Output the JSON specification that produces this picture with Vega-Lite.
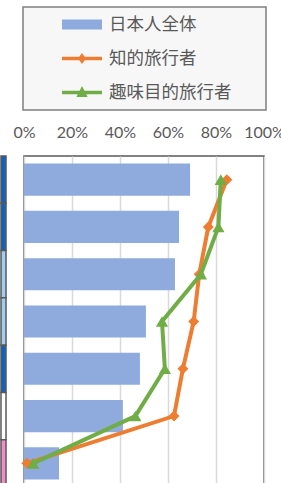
{
  "$schema": "https://vega.github.io/schema/vega-lite/v6.json",
  "padding": {"left": 0, "top": 5, "right": 0, "bottom": 0},
  "background": "white",
  "bounds": "flush",
  "spacing": 18,
  "config": {"view": {"stroke": "#595959", "strokeWidth": 1.5}, "font": "Lato"},
  "datasets": {
    "neighbor": [
      {"item": "1", "level": "濃"},
      {"item": "2", "level": "濃"},
      {"item": "3", "level": "淡"},
      {"item": "4", "level": "淡"},
      {"item": "5", "level": "濃"},
      {"item": "6", "level": "無"},
      {"item": "7", "level": "桃"}
    ],
    "survey": [
      {"item": "1", "series": "日本人全体", "value": 0.692},
      {"item": "2", "series": "日本人全体", "value": 0.646},
      {"item": "3", "series": "日本人全体", "value": 0.629},
      {"item": "4", "series": "日本人全体", "value": 0.508},
      {"item": "5", "series": "日本人全体", "value": 0.483},
      {"item": "6", "series": "日本人全体", "value": 0.412},
      {"item": "7", "series": "日本人全体", "value": 0.146},
      {"item": "1", "series": "知的旅行者", "value": 0.845},
      {"item": "2", "series": "知的旅行者", "value": 0.768},
      {"item": "3", "series": "知的旅行者", "value": 0.73},
      {"item": "4", "series": "知的旅行者", "value": 0.707},
      {"item": "5", "series": "知的旅行者", "value": 0.662},
      {"item": "6", "series": "知的旅行者", "value": 0.625},
      {"item": "7", "series": "知的旅行者", "value": 0.012},
      {"item": "1", "series": "趣味目的旅行者", "value": 0.82},
      {"item": "2", "series": "趣味目的旅行者", "value": 0.81},
      {"item": "3", "series": "趣味目的旅行者", "value": 0.737},
      {"item": "4", "series": "趣味目的旅行者", "value": 0.575},
      {"item": "5", "series": "趣味目的旅行者", "value": 0.587},
      {"item": "6", "series": "趣味目的旅行者", "value": 0.464},
      {"item": "7", "series": "趣味目的旅行者", "value": 0.038}
    ]
  },
  "resolve": {
    "scale": {"x": "independent", "y": "independent", "color": "independent", "fill": "independent", "shape": "independent"},
    "legend": {"color": "independent", "fill": "independent", "shape": "independent"}
  },
  "hconcat": [
    {
      "width": 5,
      "height": 331,
      "data": {"name": "neighbor"},
      "view": {"stroke": null},
      "mark": {"type": "rect", "stroke": "#595959", "strokeWidth": 1.5},
      "encoding": {
        "y": {"field": "item", "type": "nominal", "sort": null, "axis": null, "scale": {"paddingInner": 0, "paddingOuter": 0}},
        "fill": {"field": "level", "type": "nominal", "legend": null,
          "scale": {"domain": ["濃", "淡", "無", "桃"], "range": ["#0b63c4", "#a6cbf0", "#ffffff", "#f28dc9"]}}
      }
    },
    {
      "width": 240,
      "height": 331,
      "data": {"name": "survey"},
      "encoding": {
        "y": {"field": "item", "type": "nominal", "sort": null, "axis": null, "scale": {"paddingInner": 0.32, "paddingOuter": 0.16}}
      },
      "layer": [
        {
          "transform": [{"filter": "datum.series === '日本人全体'"}],
          "mark": {"type": "bar", "color": "#8faadc"},
          "encoding": {
            "x": {"field": "value", "type": "quantitative",
              "scale": {"domain": [0, 1], "nice": false},
              "axis": {"orient": "top", "values": [0, 0.2, 0.4, 0.6, 0.8, 1], "format": ".0%", "grid": true,
                "gridColor": "#d9d9d9", "gridWidth": 1.5, "domain": false, "ticks": false, "labelFlush": false,
                "labelFont": "Lato", "labelFontSize": 16, "labelColor": "#595959", "labelPadding": 16, "title": null}}
          }
        },
        {
          "transform": [{"filter": "datum.series === '知的旅行者'"}],
          "mark": {"type": "line", "color": "#ed7d31", "strokeWidth": 4},
          "encoding": {"x": {"field": "value", "type": "quantitative"}}
        },
        {
          "transform": [{"filter": "datum.series === '知的旅行者'"}],
          "mark": {"type": "point", "shape": "diamond", "filled": true, "size": 121, "color": "#ed7d31", "opacity": 1},
          "encoding": {"x": {"field": "value", "type": "quantitative"}}
        },
        {
          "transform": [{"filter": "datum.series === '趣味目的旅行者'"}],
          "mark": {"type": "line", "color": "#70ad47", "strokeWidth": 4},
          "encoding": {"x": {"field": "value", "type": "quantitative"}}
        },
        {
          "transform": [{"filter": "datum.series === '趣味目的旅行者'"}],
          "mark": {"type": "point", "shape": "triangle-up", "filled": true, "size": 150, "color": "#70ad47", "opacity": 1},
          "encoding": {"x": {"field": "value", "type": "quantitative"}}
        },
        {
          "mark": {"type": "point", "filled": true, "opacity": 0},
          "encoding": {
            "color": {"field": "series", "type": "nominal",
              "scale": {"domain": ["日本人全体", "知的旅行者", "趣味目的旅行者"], "range": ["#8faadc", "#ed7d31", "#70ad47"]},
              "legend": {"orient": "none", "legendX": -1, "legendY": -149, "title": " ", "titleOrient": "right",
                "titleFontSize": 1, "titlePadding": 26, "strokeColor": "#7f7f7f", "fillColor": "#f7f7f7", "padding": 9,
                "symbolSize": 1600, "clipHeight": 17, "rowPadding": 16, "symbolOffset": 30, "labelOffset": 7,
                "labelFont": "Noto Sans CJK JP", "labelFontSize": 17.5, "labelColor": "#595959",
                "symbolStrokeWidth": 0, "symbolOpacity": 1,
                "encode": {"legend": {"update": {"strokeWidth": {"value": 1.5}}}}}},
            "shape": {"field": "series", "type": "nominal",
              "scale": {"domain": ["日本人全体", "知的旅行者", "趣味目的旅行者"],
                "range": ["M-1,-0.25H1V0.25H-1Z", "M-1,-0.085H1V0.085H-1Z M0,-0.28L0.2,0L0,0.28L-0.2,0Z", "M-1,-0.085H1V0.085H-1Z M0,-0.32L0.28,0.22L-0.28,0.22Z"]}}
          }
        }
      ]
    }
  ]
}
